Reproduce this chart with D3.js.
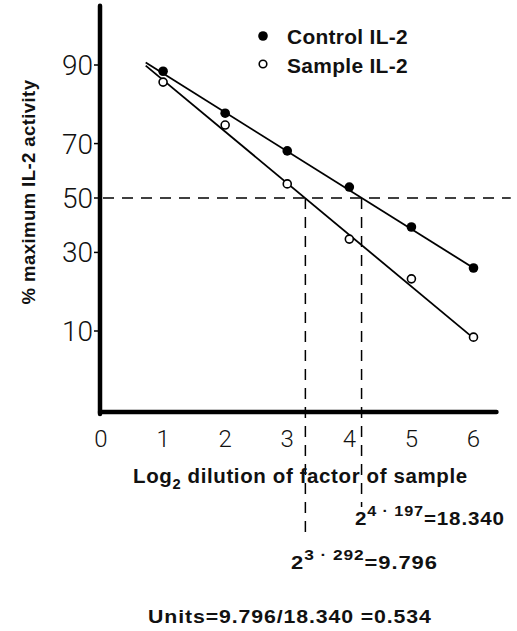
<html lang='eng'>

<head>
    <title>IL-2 activity</title>
    <script src="https://d3js.org/d3.v7.min.js" charset="utf-8"></script>
    <style>
        body { margin: 0; background: #fff; }
        .tick-label { font-family: Roboto, 'DejaVu Sans', sans-serif; font-weight: 300; fill: #111; }
        .bold { font-family: 'Liberation Sans', Arial, sans-serif; font-weight: bold; fill: #111; }
    </style>
</head>

<body>
    <script>
        // data
        var dilutions = [1, 2, 3, 4, 5, 6];
        var controlValues = [88.9, 79.3, 67.5, 54.2, 39.0, 25.0];
        var sampleValues = [86.8, 75.9, 55.4, 34.6, 21.8, 9.0];
        // fitted lines (x, %)
        var controlFit = [[0.72, 90.4], [6, 25.0]];
        var sampleFit = [[0.72, 89.9], [6, 8.85]];
        var xTicks = [0, 1, 2, 3, 4, 5, 6];
        var yTicks = [90, 70, 50, 30, 10];
        var controlHalf = 4.197, sampleHalf = 3.292;
        var legendLabels = ['Control IL-2', 'Sample IL-2'];

        // canvas
        var width = 517, height = 631;

        var svg = d3.select('body')
            .append('svg')
            .attr('width', width)
            .attr('height', height);

        // inverse normal cdf (probit), Acklam approximation
        function probit(p) {
            var a = [-3.969683028665376e+01, 2.209460984245205e+02, -2.759285104469687e+02, 1.383577518672690e+02, -3.066479806614716e+01, 2.506628277459239e+00];
            var b = [-5.447609879822406e+01, 1.615858368580409e+02, -1.556989798598866e+02, 6.680131188771972e+01, -1.328068155288572e+01];
            var c = [-7.784894002430293e-03, -3.223964580411365e-01, -2.400758277161838e+00, -2.549732539343734e+00, 4.374664141464968e+00, 2.938163982698783e+00];
            var d = [7.784695709041462e-03, 3.224671290700398e-01, 2.445134137142996e+00, 3.754408661907416e+00];
            var pl = 0.02425, q, r;
            if (p < pl) {
                q = Math.sqrt(-2 * Math.log(p));
                return (((((c[0] * q + c[1]) * q + c[2]) * q + c[3]) * q + c[4]) * q + c[5]) / ((((d[0] * q + d[1]) * q + d[2]) * q + d[3]) * q + 1);
            }
            if (p > 1 - pl) {
                q = Math.sqrt(-2 * Math.log(1 - p));
                return -(((((c[0] * q + c[1]) * q + c[2]) * q + c[3]) * q + c[4]) * q + c[5]) / ((((d[0] * q + d[1]) * q + d[2]) * q + d[3]) * q + 1);
            }
            q = p - 0.5; r = q * q;
            return (((((a[0] * r + a[1]) * r + a[2]) * r + a[3]) * r + a[4]) * r + a[5]) * q / (((((b[0] * r + b[1]) * r + b[2]) * r + b[3]) * r + b[4]) * r + 1);
        }

        // scales
        var x = d3.scaleLinear().domain([0, 6]).range([101, 473.5]);
        var yLin = d3.scaleLinear().domain([probit(0.10), probit(0.90)]).range([331, 65]);
        var y = function (pct) { return yLin(probit(pct / 100)); };

        var axisX0 = 100, axisY0 = 412;

        // stretch a text group horizontally so it spans a given width
        function stretch(g, px, py, target, rotate) {
            var w = g.node().getBBox().width;
            var s = target / w;
            g.attr('transform', 'translate(' + px + ',' + py + ')' + (rotate ? ' rotate(-90)' : '') + ' scale(' + s + ',1)');
        }

        // axes
        svg.append('line')
            .attr('x1', axisX0).attr('x2', axisX0)
            .attr('y1', y(96.8)).attr('y2', axisY0 + 2)
            .attr('stroke', '#000').attr('stroke-width', 4.5).attr('stroke-linecap', 'round');
        svg.append('line')
            .attr('x1', axisX0).attr('x2', x(6.37))
            .attr('y1', axisY0).attr('y2', axisY0)
            .attr('stroke', '#000').attr('stroke-width', 4.5).attr('stroke-linecap', 'round');

        // y ticks
        var yt = svg.append('g');
        yt.selectAll('line').data(yTicks).enter().append('line')
            .attr('x1', axisX0 - 6).attr('x2', axisX0)
            .attr('y1', function (d) { return y(d); })
            .attr('y2', function (d) { return y(d); })
            .attr('stroke', '#000').attr('stroke-width', 1.5);
        yt.selectAll('text').data(yTicks).enter().append('text')
            .attr('class', 'tick-label')
            .attr('x', axisX0 - 7)
            .attr('y', function (d) { return y(d) + 10; })
            .attr('text-anchor', 'end')
            .attr('font-size', 28)
            .text(function (d) { return d; });

        // x tick labels
        svg.append('g').selectAll('text').data(xTicks).enter().append('text')
            .attr('class', 'tick-label')
            .attr('x', function (d) { return x(d); })
            .attr('y', 447)
            .attr('text-anchor', 'middle')
            .attr('font-size', 24)
            .text(function (d) { return d; });

        // reference dashed lines
        var dash = '11,8';
        svg.append('line')
            .attr('x1', axisX0 + 3).attr('x2', x(6.6))
            .attr('y1', y(50)).attr('y2', y(50))
            .attr('stroke', '#000').attr('stroke-width', 1.5).attr('stroke-dasharray', dash);
        svg.append('line')
            .attr('x1', x(sampleHalf)).attr('x2', x(sampleHalf))
            .attr('y1', y(50)).attr('y2', 538)
            .attr('stroke', '#000').attr('stroke-width', 1.5).attr('stroke-dasharray', dash);
        svg.append('line')
            .attr('x1', x(controlHalf)).attr('x2', x(controlHalf))
            .attr('y1', y(50)).attr('y2', 507)
            .attr('stroke', '#000').attr('stroke-width', 1.5).attr('stroke-dasharray', dash);

        // fit lines
        var line = d3.line()
            .x(function (d) { return x(d[0]); })
            .y(function (d) { return y(d[1]); });
        svg.append('path').datum(controlFit)
            .attr('d', line).attr('fill', 'none').attr('stroke', '#000').attr('stroke-width', 1.8);
        svg.append('path').datum(sampleFit)
            .attr('d', line).attr('fill', 'none').attr('stroke', '#000').attr('stroke-width', 1.8);

        // points
        svg.append('g').selectAll('circle').data(dilutions).enter().append('circle')
            .attr('cx', function (d) { return x(d); })
            .attr('cy', function (d, i) { return y(controlValues[i]); })
            .attr('r', 4.8).attr('fill', '#000');
        svg.append('g').selectAll('circle').data(dilutions).enter().append('circle')
            .attr('cx', function (d) { return x(d); })
            .attr('cy', function (d, i) { return y(sampleValues[i]); })
            .attr('r', 4).attr('fill', '#fff').attr('stroke', '#000').attr('stroke-width', 1.6);

        // legend
        var lg = svg.append('g').attr('transform', 'translate(263,36)');
        lg.append('circle').attr('cx', 0).attr('cy', 0).attr('r', 4.8).attr('fill', '#000');
        lg.append('circle').attr('cx', 0).attr('cy', 28).attr('r', 3.8)
            .attr('fill', '#fff').attr('stroke', '#000').attr('stroke-width', 1.6);
        legendLabels.forEach(function (d, i) {
            var g = svg.append('g');
            g.append('text').attr('class', 'bold').attr('font-size', 20)
                .attr('letter-spacing', 0.3).text(d);
            stretch(g, 287, 44 + i * 29, 121);
        });

        // axis titles
        var yl = svg.append('g');
        yl.append('text')
            .attr('class', 'bold')
            .attr('text-anchor', 'middle')
            .attr('font-size', 19)
            .attr('letter-spacing', 0.4)
            .text('% maximum IL-2 activity');
        stretch(yl, 35, 192, 225, true);

        var xlg = svg.append('g');
        var xt = xlg.append('text')
            .attr('class', 'bold')
            .attr('font-size', 19.5)
            .attr('letter-spacing', 0.6);
        xt.append('tspan').text('Log');
        xt.append('tspan').attr('dy', 6).attr('font-size', 14).text('2');
        xt.append('tspan').attr('dy', -6).text(' dilution of factor of sample');
        stretch(xlg, 133, 483, 335);

        // annotations
        function powerText(px, py, base, expo, rest, target) {
            var g = svg.append('g');
            var t = g.append('text')
                .attr('class', 'bold')
                .attr('font-size', 19)
                .attr('letter-spacing', 0.8);
            t.append('tspan').text(base);
            t.append('tspan').attr('dy', -9).attr('font-size', 15).text(expo);
            t.append('tspan').attr('dy', 9).text(rest);
            stretch(g, px, py, target);
        }
        powerText(355, 525, '2', '4 \u00b7 197', '=18.340', 150);
        powerText(291, 569, '2', '3 \u00b7 292', '=9.796', 147);

        var ug = svg.append('g');
        ug.append('text')
            .attr('class', 'bold')
            .attr('font-size', 19)
            .attr('letter-spacing', 0.8)
            .text('Units=9.796/18.340 =0.534');
        stretch(ug, 148, 623, 284);
    </script>
</body>

</html>
